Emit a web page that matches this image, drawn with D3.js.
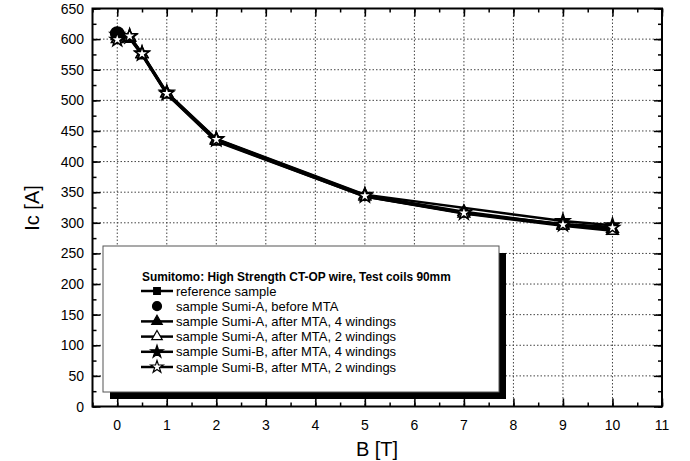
<!DOCTYPE html>
<html>
<head>
<meta charset="utf-8">
<script src="https://cdn.jsdelivr.net/npm/d3@7.9.0/dist/d3.min.js"></script>
<style>
  body { margin: 0; background: #fff; }
  text { font-family: "Liberation Sans", Arial, sans-serif; }
</style>
</head>
<body>
<div id="chart"></div>
<script>
// B field values (T)
const fieldFull = [0, 0.25, 0.5, 1, 2, 5, 7, 9, 10];
const fieldNoSeven = [0, 0.25, 0.5, 1, 2, 5, 9, 10];

// Ic values (A)
const refIc = [603, 601, 574, 510, 433, 343, 316, 298, 293];
const beforeIc = [609];
const sumiA4Ic = [605, 602, 576, 512, 436, 345, 318, 297, 290];
const sumiA2Ic = [600, 603, 575, 511, 434, 343, 315, 295, 287];
const sumiB4Ic = [607, 604, 577, 513, 437, 346, 303, 296];
const sumiB2Ic = [599, 605, 576, 511, 436, 344, 316, 297, 292];

const legendTitle = 'Sumitomo: High Strength CT-OP wire, Test coils 90mm';
const xTicks = [0, 1, 2, 3, 4, 5, 6, 7, 8, 9, 10, 11];
const yTicks = [0, 50, 100, 150, 200, 250, 300, 350, 400, 450, 500, 550, 600, 650];

const series = [
    { name: 'reference sample', b: fieldFull, ic: refIc, symbol: d3.symbolSquare, size: 55, fill: 'black', line: true },
    { name: 'sample Sumi-A, before MTA', b: [0], ic: beforeIc, symbol: d3.symbolCircle, size: 140, fill: 'black', line: false },
    { name: 'sample Sumi-A, after MTA, 4 windings', b: fieldFull, ic: sumiA4Ic, symbol: d3.symbolTriangle, size: 60, fill: 'black', line: true },
    { name: 'sample Sumi-A, after MTA, 2 windings', b: fieldFull, ic: sumiA2Ic, symbol: d3.symbolTriangle, size: 60, fill: 'white', line: true },
    { name: 'sample Sumi-B, after MTA, 4 windings', b: fieldNoSeven, ic: sumiB4Ic, symbol: d3.symbolStar, size: 60, fill: 'black', line: true },
    { name: 'sample Sumi-B, after MTA, 2 windings', b: fieldFull, ic: sumiB2Ic, symbol: d3.symbolStar, size: 60, fill: 'white', line: true }
];

const width = 690, height = 461;
const svg = d3.select('#chart')
    .append('svg')
    .attr('width', width)
    .attr('height', height);

const plotL = 92.5, plotR = 662, plotT = 8.5, plotB = 406.5;

const x = d3.scaleLinear().domain([-0.5, 11]).range([plotL, plotR]);
const y = d3.scaleLinear().domain([0, 650]).range([plotB, plotT]);

// Grid
xTicks.filter(t => t < 11).forEach(t => {
    svg.append('line')
        .attr('x1', x(t)).attr('x2', x(t))
        .attr('y1', plotT).attr('y2', plotB)
        .attr('stroke', '#444')
        .attr('stroke-width', 1)
        .attr('stroke-dasharray', '1.5,2');
});
yTicks.filter(t => t > 0 && t < 650).forEach(t => {
    svg.append('line')
        .attr('x1', plotL).attr('x2', plotR)
        .attr('y1', y(t)).attr('y2', y(t))
        .attr('stroke', '#444')
        .attr('stroke-width', 1)
        .attr('stroke-dasharray', '1.5,2');
});

// Axes (ticks inside, mirrored)
const xMinor = d3.range(-0.5, 11.01, 0.5);
const yMinor = d3.range(0, 651, 25);

function tickAxis(axis, values, size, transform) {
    svg.append('g')
        .attr('transform', transform)
        .call(axis.tickValues(values).tickSize(size).tickFormat(''))
        .call(g => g.select('.domain').remove());
}
tickAxis(d3.axisTop(x), xMinor, 4, `translate(0,${plotB})`);
tickAxis(d3.axisTop(x), xTicks, 8, `translate(0,${plotB})`);
tickAxis(d3.axisBottom(x), xMinor, 4, `translate(0,${plotT})`);
tickAxis(d3.axisBottom(x), xTicks, 8, `translate(0,${plotT})`);
tickAxis(d3.axisRight(y), yMinor, 4, `translate(${plotL},0)`);
tickAxis(d3.axisRight(y), yTicks, 8, `translate(${plotL},0)`);
tickAxis(d3.axisLeft(y), yMinor, 4, `translate(${plotR},0)`);
tickAxis(d3.axisLeft(y), yTicks, 8, `translate(${plotR},0)`);

svg.selectAll('.tick line').attr('stroke', 'black').attr('stroke-width', 1.5);

// Tick labels
svg.append('g').selectAll('text')
    .data(xTicks)
    .join('text')
    .attr('x', d => x(d))
    .attr('y', 430)
    .attr('text-anchor', 'middle')
    .attr('font-size', 14)
    .text(d => d);
svg.append('g').selectAll('text')
    .data(yTicks)
    .join('text')
    .attr('x', 84)
    .attr('y', d => y(d) + 5)
    .attr('text-anchor', 'end')
    .attr('font-size', 14)
    .text(d => d);

// Axis titles
svg.append('text')
    .attr('x', 377)
    .attr('y', 456)
    .attr('text-anchor', 'middle')
    .attr('font-size', 20)
    .text('B [T]');
svg.append('text')
    .attr('transform', 'translate(39,208) rotate(-90)')
    .attr('text-anchor', 'middle')
    .attr('font-size', 20)
    .text('Ic [A]');

// Lines
const line = d3.line()
    .x(d => x(d[0]))
    .y(d => y(d[1]));

series.filter(s => s.line).forEach(s => {
    svg.append('path')
        .attr('d', line(s.b.map((b, i) => [b, s.ic[i]])))
        .attr('fill', 'none')
        .attr('stroke', 'black')
        .attr('stroke-width', 2.5);
});

// Markers
series.forEach(s => {
    svg.append('g').selectAll('path')
        .data(s.b.map((b, i) => [b, s.ic[i]]))
        .join('path')
        .attr('d', d3.symbol().type(s.symbol).size(s.size))
        .attr('transform', d => `translate(${x(d[0])},${y(d[1])})`)
        .attr('fill', s.fill)
        .attr('stroke', 'black')
        .attr('stroke-width', 1.5);
});

// Frame
svg.append('rect')
    .attr('x', plotL).attr('y', plotT)
    .attr('width', plotR - plotL).attr('height', plotB - plotT)
    .attr('fill', 'none')
    .attr('stroke', 'black')
    .attr('stroke-width', 2);

// Legend
const lg = { x: 103, y: 246, w: 396, h: 146 };
svg.append('rect')
    .attr('x', lg.x + 7).attr('y', lg.y + 7)
    .attr('width', lg.w).attr('height', lg.h)
    .attr('fill', 'black');
svg.append('rect')
    .attr('x', lg.x).attr('y', lg.y)
    .attr('width', lg.w).attr('height', lg.h)
    .attr('fill', 'white')
    .attr('stroke', '#555')
    .attr('stroke-width', 1);

svg.append('text')
    .attr('x', 142)
    .attr('y', 281)
    .attr('font-size', 11.9)
    .attr('font-weight', 'bold')
    .text(legendTitle);

series.forEach((s, i) => {
    const cy = 291 + i * 15.2;
    if (s.line) {
        svg.append('line')
            .attr('x1', 141).attr('x2', 173)
            .attr('y1', cy).attr('y2', cy)
            .attr('stroke', 'black')
            .attr('stroke-width', 2.5);
    }
    svg.append('path')
        .attr('d', d3.symbol().type(s.symbol).size(s.line ? s.size * 0.8 : s.size * 0.45))
        .attr('transform', `translate(157,${cy})`)
        .attr('fill', s.fill)
        .attr('stroke', 'black')
        .attr('stroke-width', 1.2);
    svg.append('text')
        .attr('x', 176)
        .attr('y', cy + 4.5)
        .attr('font-size', 13)
        .text(s.name);
});
</script>
</body>
</html>
